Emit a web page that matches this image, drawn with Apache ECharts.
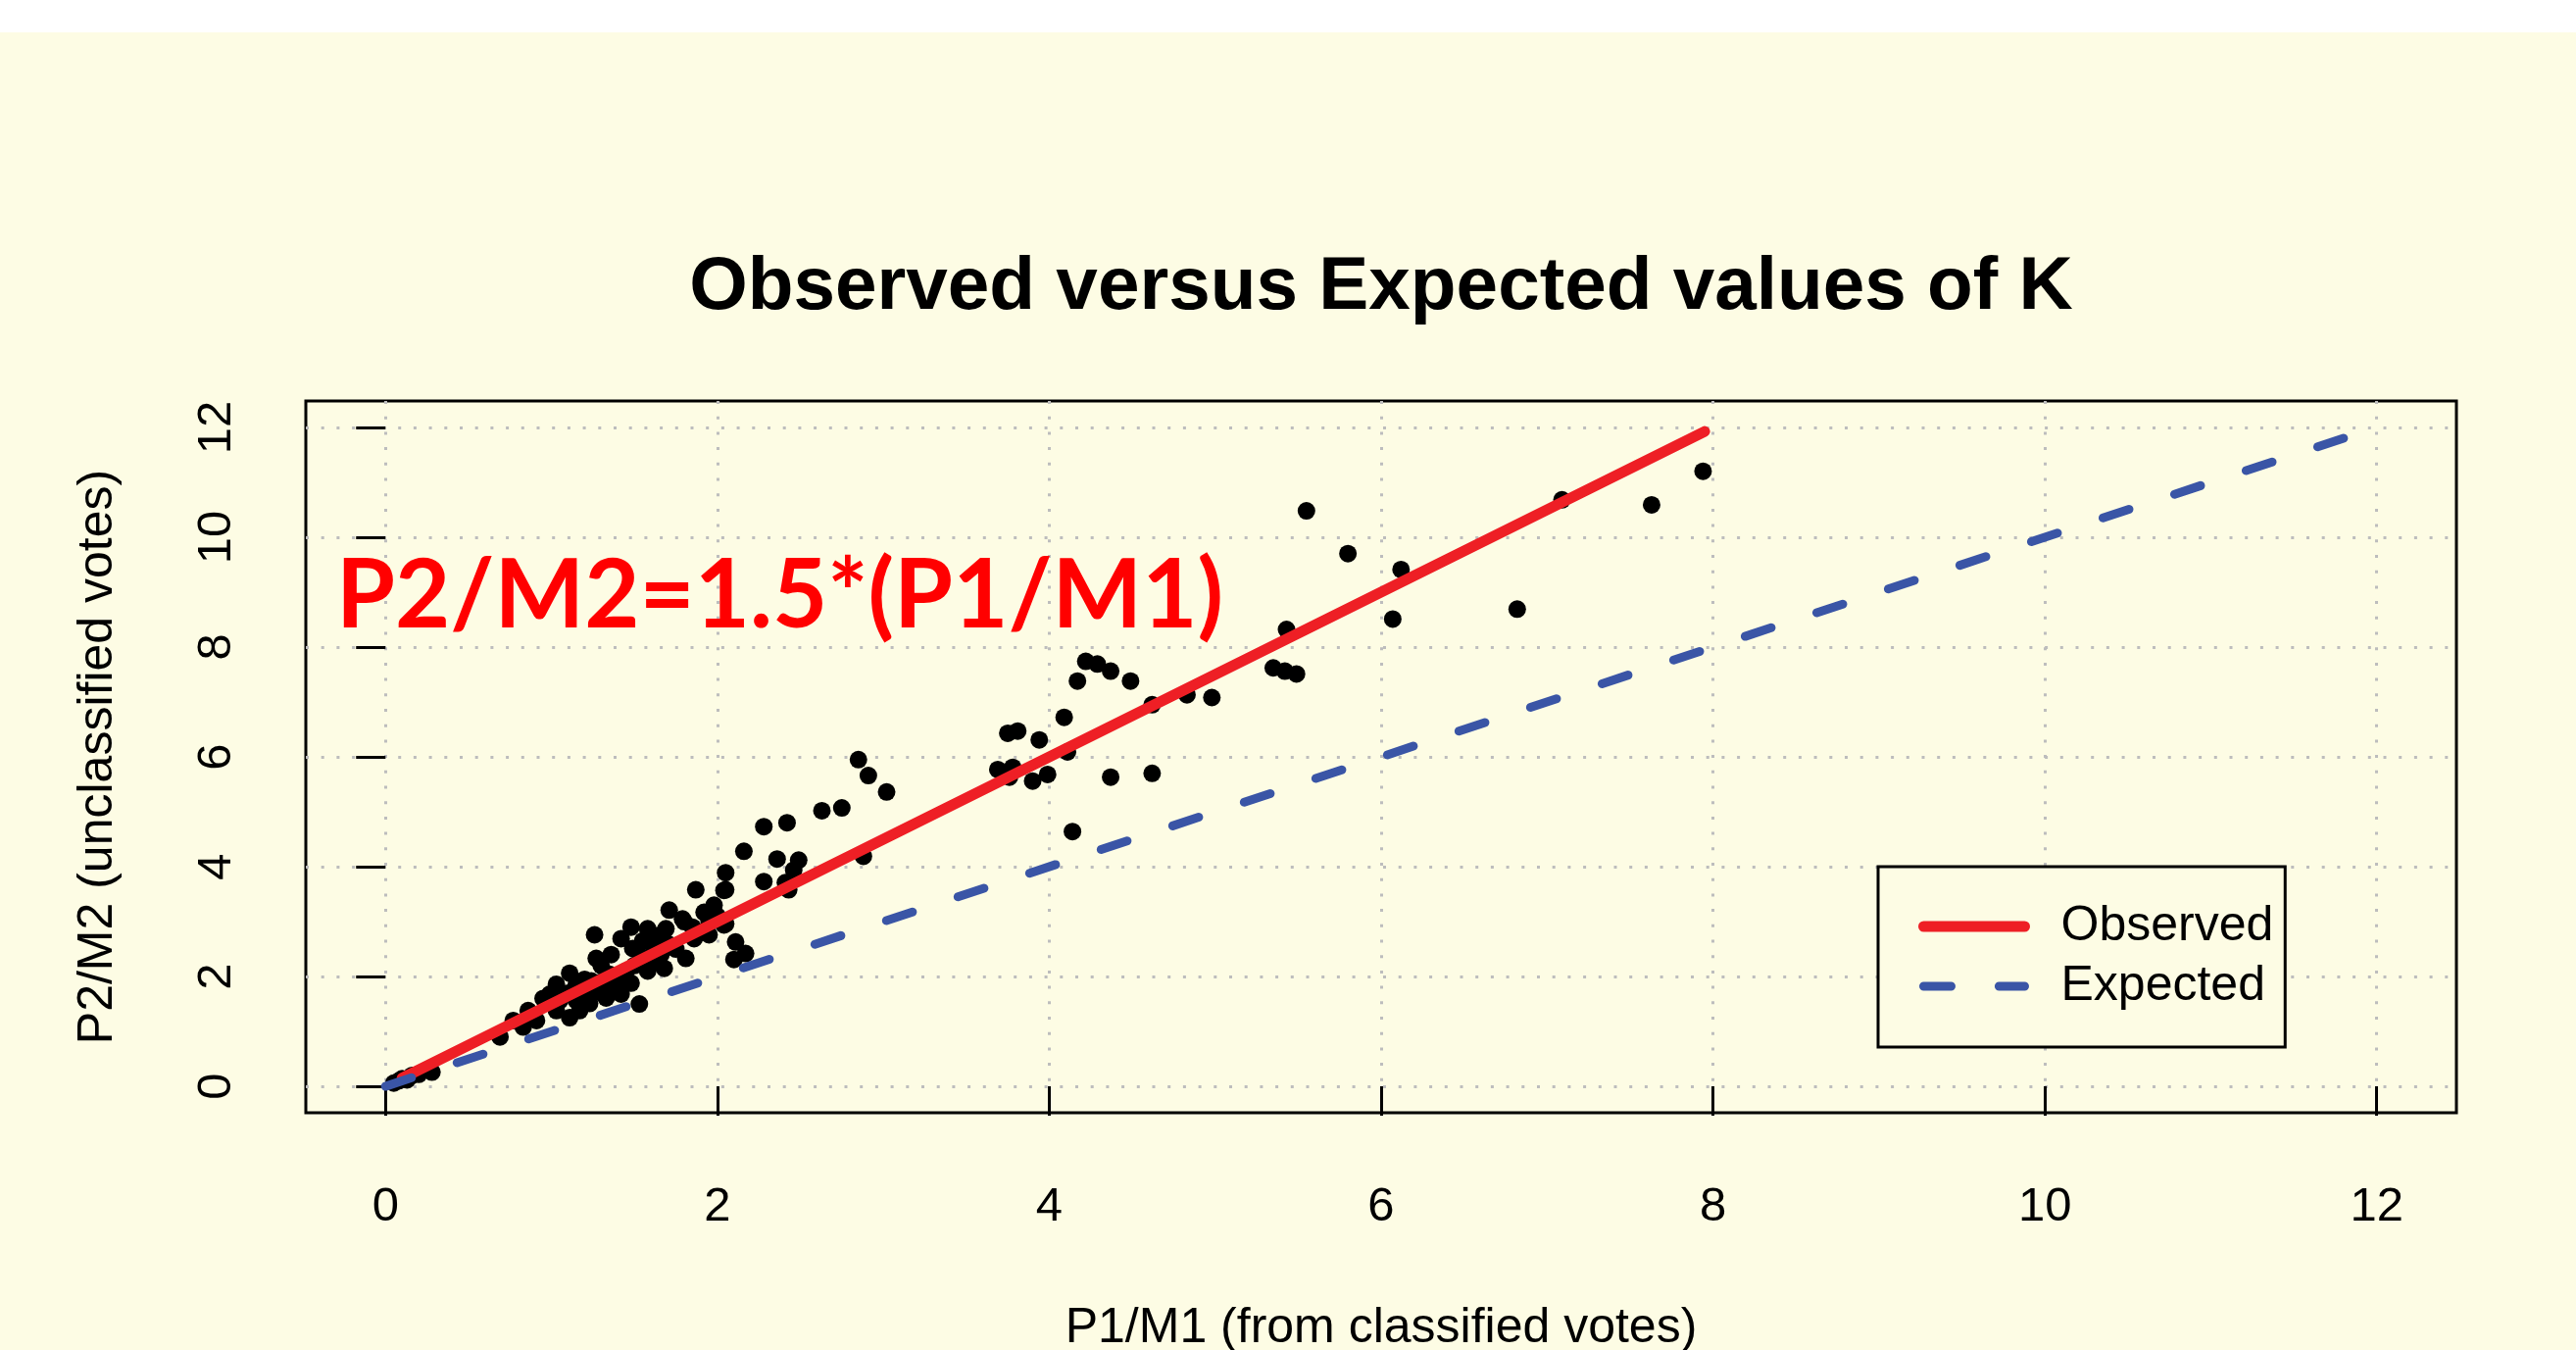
<!DOCTYPE html>
<html><head><meta charset="utf-8">
<script src="https://cdn.jsdelivr.net/npm/echarts@6/dist/echarts.min.js"></script>
<style>html,body{margin:0;padding:0;background:#FDFCE4;}#c{width:2628px;height:1377px;}</style>
</head><body><div id="c"></div>
<script>
// ---- data ----
const tickValues = [0, 2, 4, 6, 8, 10, 12];
const pointsX = [
 0.05,0.08,0.10,0.13,0.16,0.20,0.28,
 0.69,0.77,0.83,0.86,0.91,0.95,0.99,1.03,1.03,1.05,1.11,1.11,1.15,1.17,1.19,1.19,1.23,1.24,1.26,1.27,1.30,1.33,1.35,1.35,1.36,1.39,1.42,1.42,1.45,
 1.10,1.20,1.30,1.40,1.50,1.55,1.62,1.70,1.75,1.85,1.90,1.60,1.25,1.15,1.55,1.65,1.80,1.95,2.00,
 1.48,1.49,1.48,1.53,1.58,1.58,1.60,1.66,1.68,1.69,1.71,1.79,1.81,1.86,1.87,1.92,1.95,1.98,2.04,2.04,2.05,
 2.05,2.05,2.10,2.11,2.16,2.17,2.28,2.28,2.36,2.41,2.42,2.43,2.46,2.49,2.63,2.75,2.85,2.88,2.91,3.02,
 3.69,3.75,3.76,3.78,3.81,3.90,3.94,3.99,4.09,4.11,4.14,4.17,4.22,4.29,4.37,4.37,4.49,4.62,4.62,4.83,4.98,
 5.35,5.42,5.43,5.49,5.55,5.80,6.07,6.12,6.82,7.09,7.63,7.94
];
const pointsY = [
 0.06,0.10,0.14,0.12,0.20,0.22,0.26,
 0.90,1.20,1.08,1.38,1.20,1.60,1.68,1.38,1.86,1.56,1.25,2.06,1.56,1.38,1.61,1.79,1.51,1.92,2.76,2.33,2.20,1.61,1.74,2.04,2.40,1.79,1.68,2.69,2.10,
 1.70,1.95,1.90,2.00,2.20,2.35,2.50,2.60,2.50,2.90,2.80,2.25,1.70,1.85,2.65,2.75,3.00,3.00,3.10,
 2.90,2.51,1.88,1.50,2.87,2.10,2.63,2.40,2.15,2.87,3.21,3.05,2.33,2.69,3.58,3.17,2.76,3.30,3.57,2.94,3.89,
 3.58,2.96,2.31,2.63,4.28,2.42,4.73,3.73,4.14,3.71,4.80,3.58,3.94,4.12,5.02,5.07,5.95,4.19,5.66,5.36,
 5.77,6.43,5.63,5.81,6.47,5.56,6.31,5.68,6.72,6.09,4.64,7.38,7.74,7.69,7.56,5.63,7.38,6.95,5.70,7.13,7.08,
 7.62,7.56,8.32,7.51,10.48,9.70,8.51,9.41,8.69,10.68,10.59,11.20
];
const observedX = [0.1, 7.95];
const observedY = [0.15, 11.925];
const expectedX = [0, 11.8];
const expectedY = [0, 11.8];
const seriesNames = ['Observed', 'Expected'];
const titleText = 'Observed versus Expected values of K';
const xTitle = 'P1/M1 (from classified votes)';
const yTitle = 'P2/M2 (unclassified votes)';
const annotation = 'P2/M2=1.5*(P1/M1)';

const zip = (a, b) => a.map((v, i) => [v, b[i]]);
const FONT = '"Liberation Sans", Arial, sans-serif';
const RED = '#EE1F25', BLUE = '#3A55A6', DASH = [28, 48.9];

const axisCommon = {
  type: 'value', min: -0.48, max: 12.48,
  axisLine: { show: false },
  axisTick: { show: true, inside: false, length: 30, customValues: tickValues,
              lineStyle: { color: '#000', width: 3 } },
  axisLabel: { customValues: tickValues, color: '#000', fontFamily: FONT, fontSize: 49 },
  splitLine: { show: true, lineStyle: { color: '#BDBDBD', width: 3, type: [3, 12.7] } },
  nameLocation: 'middle',
  nameTextStyle: { color: '#000', fontFamily: FONT, fontSize: 50 }
};

const chart = echarts.init(document.getElementById('c'), null, { renderer: 'canvas' });
chart.setOption({
  backgroundColor: '#FDFCE4',
  animation: false,
  title: {
    text: titleText, left: 1404, top: 250, textAlign: 'center',
    textStyle: { fontFamily: FONT, fontWeight: 'bold', fontSize: 76.5, color: '#000' }
  },
  grid: { left: 312, right: 122, top: 409, bottom: 242, show: true, containLabel: false,
          outerBoundsMode: 'none',
          borderColor: '#000', borderWidth: 3, backgroundColor: 'transparent' },
  xAxis: Object.assign({}, axisCommon, {
    name: xTitle, nameGap: 195,
    axisLabel: Object.assign({}, axisCommon.axisLabel, { margin: 72 })
  }),
  yAxis: Object.assign({}, axisCommon, {
    name: yTitle, nameGap: 187,
    axisLabel: Object.assign({}, axisCommon.axisLabel, { margin: 66, rotate: 90 })
  }),
  legend: {
    data: [
      { name: seriesNames[0], lineStyle: { color: RED, width: 11, cap: 'round', type: 'solid' } },
      { name: seriesNames[1], lineStyle: { color: BLUE, width: 9, cap: 'round', type: DASH } }
    ],
    orient: 'vertical', left: 1916, top: 884,
    padding: [36, 12, 37, 41], itemGap: 11, itemWidth: 103, itemHeight: 12,
    itemStyle: { color: 'transparent', borderWidth: 0, opacity: 0 },
    borderColor: '#000', borderWidth: 3, borderRadius: 0, backgroundColor: '#FDFCE4',
    textStyle: { fontFamily: FONT, fontSize: 50, color: '#000', padding: [0, 0, 0, 32] }
  },
  graphic: [
    { type: 'rect', left: 0, top: 0, shape: { width: 2628, height: 33 }, style: { fill: '#FFFFFF' }, z: 100 },
    { type: 'text', left: 343, top: 560, z: 100,
      style: { text: annotation, fill: '#FF0000', font: 'bold 97px Lato, "Open Sans", sans-serif' } }
  ],
  series: [
    { type: 'scatter', name: 'points', data: zip(pointsX, pointsY), symbol: 'circle', symbolSize: 18,
      itemStyle: { color: '#000', opacity: 1 }, z: 2 },
    { type: 'line', name: seriesNames[0], data: zip(observedX, observedY), symbol: 'none', z: 3,
      lineStyle: { color: RED, width: 11, cap: 'round' }, itemStyle: { color: RED } },
    { type: 'line', name: seriesNames[1], data: zip(expectedX, expectedY), symbol: 'none', z: 4,
      lineStyle: { color: BLUE, width: 9, type: DASH, cap: 'round' }, itemStyle: { color: BLUE } }
  ]
});
</script></body></html>
